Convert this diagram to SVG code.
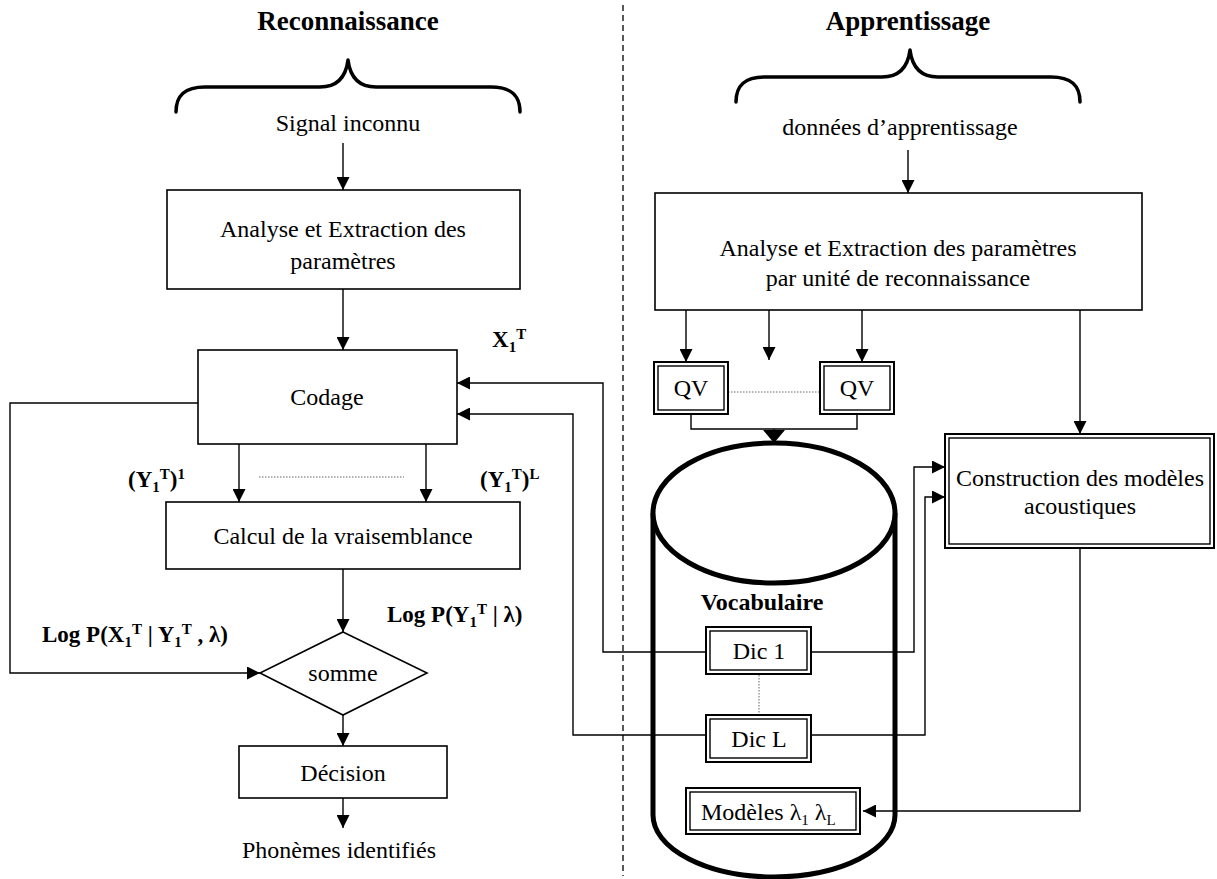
<svg xmlns="http://www.w3.org/2000/svg" width="1217" height="879" viewBox="0 0 1217 879">
  <style>
    text { font-family: "Liberation Serif", "Times New Roman", serif; fill: #000; }
    .t { font-size: 24px; text-anchor: middle; }
    .ts { font-size: 24px; text-anchor: start; }
    .title { font-size: 27px; font-weight: bold; text-anchor: middle; }
    .lbl { font-size: 23px; font-weight: bold; }
    .sub { font-size: 15px; }
    .box { fill: #fff; stroke: #000; stroke-width: 1.6; }
    .dbl-out { fill: #fff; stroke: #000; stroke-width: 2; }
    .dbl-in { fill: none; stroke: #000; stroke-width: 1.4; }
    .ln { fill: none; stroke: #000; stroke-width: 1.4; }
    .arr { fill: none; stroke: #000; stroke-width: 1.4; marker-end: url(#ah); }
    .dot { fill: none; stroke: #666; stroke-width: 1; stroke-dasharray: 1.5 1.5; }
    .brace { fill: none; stroke: #000; stroke-width: 3.5; stroke-linecap: round; stroke-linejoin: round; }
  </style>
  <defs>
    <marker id="ah" viewBox="0 0 13 13" refX="13" refY="6.5" markerWidth="13" markerHeight="13" markerUnits="userSpaceOnUse" orient="auto">
      <path d="M0,0 L13,6.5 L0,13 z" fill="#000"/>
    </marker>
    <marker id="ahBig" viewBox="0 0 13 22" refX="13" refY="11" markerWidth="13" markerHeight="22" markerUnits="userSpaceOnUse" orient="auto">
      <path d="M0,0 L13,11 L0,22 z" fill="#000"/>
    </marker>
  </defs>

  <!-- section titles and braces -->
  <g id="title-reconnaissance">
    <text class="title" x="348" y="30">Reconnaissance</text>
    <path class="brace" d="M176,112 C176,95 185,87 205,87 L320,87 C338,87 346,76 348,60 C350,76 358,87 376,87 L491,87 C511,87 520,95 520,112"/>
  </g>
  <g id="title-apprentissage">
    <text class="title" x="908" y="30">Apprentissage</text>
    <path class="brace" d="M736,102 C736,85 745,77 765,77 L882,77 C900,77 908,66 910,50 C912,66 920,77 938,77 L1051,77 C1071,77 1080,85 1080,102"/>
  </g>

  <!-- separator between the two halves -->
  <line x1="623" y1="5" x2="623" y2="876" stroke="#000" stroke-width="1.3" stroke-dasharray="6 4"/>

  <!-- vocabulary store (cylinder) -->
  <g id="vocabulaire">
    <path d="M653,513 L653,815 A121,62 0 0 0 895,815 L895,513" fill="#fff" stroke="#000" stroke-width="5"/>
    <ellipse cx="774" cy="513" rx="121" ry="70" fill="#fff" stroke="#000" stroke-width="5"/>
    <text x="762" y="610" font-size="24" font-weight="bold" text-anchor="middle">Vocabulaire</text>
  </g>

  <!-- connectors -->
  <g id="connectors">
    <!-- recognition flow -->
    <path class="arr" d="M343,143 L343,190"/>
    <path class="arr" d="M343,289 L343,350"/>
    <path class="arr" d="M239,444 L239,502"/>
    <path class="arr" d="M426,444 L426,502"/>
    <line class="dot" x1="259" y1="477" x2="404" y2="477"/>
    <path class="arr" d="M343,569 L343,632"/>
    <path class="arr" d="M343,715 L343,746"/>
    <path class="arr" d="M343,798 L343,828"/>
    <path class="arr" d="M198,403 L10,403 L10,673 L260,673"/>
    <!-- dictionaries back to coding -->
    <path class="arr" d="M706,652 L603,652 L603,383 L457,383"/>
    <path class="arr" d="M706,735 L573,735 L573,414 L457,414"/>
    <!-- training flow -->
    <path class="arr" d="M908,150 L908,193"/>
    <path class="arr" d="M686,310 L686,362"/>
    <path class="arr" d="M769,310 L769,360"/>
    <path class="arr" d="M862,310 L862,362"/>
    <line class="dot" x1="728" y1="392" x2="820" y2="392"/>
    <path class="ln" d="M691,414 L691,429 L857,429 L857,414"/>
    <path class="ln" d="M774,429 L774,443" marker-end="url(#ahBig)"/>
    <path class="arr" d="M1080,310 L1080,434"/>
    <path class="arr" d="M811,652 L914,652 L914,467 L945,467"/>
    <path class="arr" d="M811,735 L925,735 L925,497 L945,497"/>
    <line class="dot" x1="759" y1="675" x2="759" y2="714"/>
    <path class="arr" d="M1080,548 L1080,811 L863,811"/>
  </g>

  <!-- recognition nodes -->
  <g id="signal-inconnu">
    <text class="t" x="348" y="131">Signal inconnu</text>
  </g>
  <g id="analyse-reco">
    <rect class="box" x="167" y="190" width="353" height="99"/>
    <text class="t" x="343" y="237">Analyse et Extraction des</text>
    <text class="t" x="343" y="269">paramètres</text>
  </g>
  <g id="codage">
    <rect class="box" x="198" y="350" width="259" height="94"/>
    <text class="t" x="327" y="405">Codage</text>
  </g>
  <g id="calcul">
    <rect class="box" x="166" y="502" width="354" height="67"/>
    <text class="t" x="343" y="544">Calcul de la vraisemblance</text>
  </g>
  <g id="somme">
    <polygon class="box" points="343,632 427,673 343,715 260,673"/>
    <text class="t" x="343" y="681">somme</text>
  </g>
  <g id="decision">
    <rect class="box" x="239" y="746" width="208" height="52"/>
    <text class="t" x="343" y="781">Décision</text>
  </g>
  <g id="phonemes">
    <text class="t" x="339" y="858">Phonèmes identifiés</text>
  </g>

  <!-- recognition labels -->
  <g id="labels">
    <text class="lbl" x="492" y="347">X<tspan class="sub" dy="5">1</tspan><tspan class="sub" dy="-13">T</tspan></text>
    <text class="lbl" x="128" y="487">(Y<tspan class="sub" dy="5">1</tspan><tspan class="sub" dy="-13">T</tspan><tspan dy="8">)</tspan><tspan class="sub" dy="-8">1</tspan></text>
    <text class="lbl" x="480" y="487">(Y<tspan class="sub" dy="5">1</tspan><tspan class="sub" dy="-13">T</tspan><tspan dy="8">)</tspan><tspan class="sub" dy="-8">L</tspan></text>
    <text class="lbl" x="387" y="622">Log P(Y<tspan class="sub" dy="5">1</tspan><tspan class="sub" dy="-13">T</tspan><tspan dy="8"> | λ)</tspan></text>
    <text class="lbl" x="42" y="642">Log P(X<tspan class="sub" dy="5">1</tspan><tspan class="sub" dy="-13">T</tspan><tspan dy="8"> | Y</tspan><tspan class="sub" dy="5">1</tspan><tspan class="sub" dy="-13">T</tspan><tspan dy="8"> , λ)</tspan></text>
  </g>

  <!-- training nodes -->
  <g id="donnees">
    <text class="t" x="900" y="135">données d’apprentissage</text>
  </g>
  <g id="analyse-app">
    <rect class="box" x="655" y="193" width="487" height="117"/>
    <text class="t" x="898" y="256">Analyse et Extraction des paramètres</text>
    <text class="t" x="898" y="286">par unité de reconnaissance</text>
  </g>
  <g id="qv-1">
    <rect class="dbl-out" x="654" y="362" width="74" height="52"/>
    <rect class="dbl-in" x="658" y="366" width="66" height="44"/>
    <text class="t" x="691" y="396">QV</text>
  </g>
  <g id="qv-l">
    <rect class="dbl-out" x="820" y="362" width="74" height="52"/>
    <rect class="dbl-in" x="824" y="366" width="66" height="44"/>
    <text class="t" x="857" y="396">QV</text>
  </g>
  <g id="construction">
    <rect class="dbl-out" x="945" y="434" width="269" height="114"/>
    <rect class="dbl-in" x="949" y="438" width="261" height="106"/>
    <text class="t" x="1080" y="486">Construction des modèles</text>
    <text class="t" x="1080" y="514">acoustiques</text>
  </g>
  <g id="dic-1">
    <rect class="dbl-out" x="706" y="627" width="105" height="47"/>
    <rect class="dbl-in" x="710" y="631" width="97" height="39"/>
    <text class="t" x="759" y="659">Dic 1</text>
  </g>
  <g id="dic-l">
    <rect class="dbl-out" x="706" y="715" width="105" height="47"/>
    <rect class="dbl-in" x="710" y="719" width="97" height="39"/>
    <text class="t" x="759" y="747">Dic L</text>
  </g>
  <g id="modeles">
    <rect class="dbl-out" x="686" y="788" width="174" height="46"/>
    <rect class="dbl-in" x="690" y="792" width="166" height="38"/>
    <text class="ts" x="701" y="820">Modèles λ<tspan class="sub" dy="5">1</tspan><tspan dy="-5"> λ</tspan><tspan class="sub" dy="5">L</tspan></text>
  </g>
</svg>
